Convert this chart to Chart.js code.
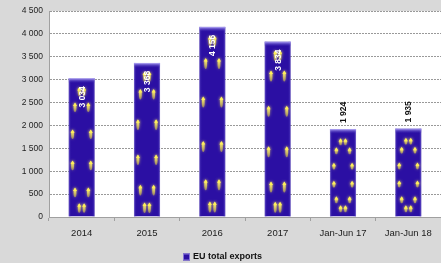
<!DOCTYPE html>
<html>
<head>
<meta charset="utf-8">
<script src="https://cdn.jsdelivr.net/npm/chart.js@4.4.1/dist/chart.umd.min.js"></script>
<style>
html,body{margin:0;padding:0;background:#d9d9d9;}
#wrap{width:441px;height:263px;}
</style>
</head>
<body>
<div id="wrap"><canvas id="c" width="441" height="263"></canvas></div>
<script>
const categories = ["2014", "2015", "2016", "2017", "Jan-Jun 17", "Jan-Jun 18"];
const exportsValues = [3034, 3368, 4156, 3834, 1924, 1935];
const seriesName = "EU total exports";
const yMax = 4500;
const yStep = 500;
const barColor = '#2b0fa3';

function fmt(v){ return String(v).replace(/\B(?=(\d{3})+(?!\d))/g, " "); }

const plotBg = {
  id: 'plotBg',
  beforeDraw(chart){
    const a = chart.chartArea, ctx = chart.ctx;
    ctx.save();
    ctx.fillStyle = '#ffffff';
    ctx.fillRect(a.left, a.top, a.right - a.left, a.bottom - a.top);
    ctx.restore();
  },
  afterDraw(chart){
    // legend
    const ctx = chart.ctx;
    ctx.save();
    ctx.font = 'bold 9px "Liberation Sans", Arial, sans-serif';
    const tw = ctx.measureText(seriesName).width;
    const total = 7 + 3 + tw;
    const x = chart.width / 2 - total / 2 + 2;
    const y = 257;
    ctx.fillStyle = barColor;
    ctx.fillRect(x, y - 3.5, 7, 7);
    ctx.strokeStyle = '#8878d8';
    ctx.lineWidth = 1;
    ctx.strokeRect(x + 0.5, y - 3, 6, 6);
    ctx.fillStyle = '#111';
    ctx.textBaseline = 'middle';
    ctx.textAlign = 'left';
    ctx.fillText(seriesName, x + 10, y);
    ctx.restore();
  }
};

const barDecor = {
  id: 'barDecor',
  afterDatasetsDraw(chart){
    const ctx = chart.ctx;
    const meta = chart.getDatasetMeta(0);
    meta.data.forEach((bar, i) => {
      const w = bar.width, x0 = bar.x - w/2, top = bar.y, bottom = bar.base;
      const h = bottom - top;
      ctx.save();
      let g = ctx.createLinearGradient(x0, 0, x0 + w, 0);
      g.addColorStop(0, 'rgba(120,100,220,0.55)');
      g.addColorStop(0.12, 'rgba(40,20,160,0)');
      g.addColorStop(0.88, 'rgba(40,20,160,0)');
      g.addColorStop(1, 'rgba(120,100,220,0.55)');
      ctx.fillStyle = g;
      ctx.fillRect(x0, top, w, h);
      let gt = ctx.createLinearGradient(0, top, 0, top + 5);
      gt.addColorStop(0, 'rgba(190,180,255,0.95)');
      gt.addColorStop(1, 'rgba(60,40,180,0)');
      ctx.fillStyle = gt;
      ctx.fillRect(x0, top, w, 5);
      const cx = bar.x, cy = top + h/2 + 3;
      const ry = h/2 - 9, rx = w * 0.36;
      const n = 12;
      for (let k = 0; k < n; k++){
        const a = (k + 0.5) / n * Math.PI * 2;
        const sx = cx + rx * Math.sin(a);
        const sy = cy - ry * Math.cos(a);
        const sh = Math.min(10, Math.max(6, h / 16));
        ctx.shadowColor = 'rgba(255,240,100,0.8)';
        ctx.shadowBlur = 3;
        let gs = ctx.createLinearGradient(0, sy - sh/2, 0, sy + sh/2);
        gs.addColorStop(0, 'rgba(255,245,120,1)');
        gs.addColorStop(1, 'rgba(220,200,60,0.5)');
        ctx.fillStyle = gs;
        ctx.beginPath();
        ctx.ellipse(sx, sy, 1.4, sh/2, 0, 0, Math.PI*2);
        ctx.fill();
        ctx.fillStyle = 'rgba(255,240,90,1)';
        ctx.beginPath();
        ctx.moveTo(sx, sy - sh/2 - 1);
        ctx.lineTo(sx - 2, sy - sh/2 + 2.5);
        ctx.lineTo(sx + 2, sy - sh/2 + 2.5);
        ctx.closePath();
        ctx.fill();
      }
      ctx.restore();
    });
    meta.data.forEach((bar, i) => {
      const v = exportsValues[i];
      const inside = v > 2500;
      ctx.save();
      ctx.font = 'bold 8.5px "Liberation Sans", Arial, sans-serif';
      ctx.textBaseline = 'middle';
      ctx.translate(bar.x + 0.5, inside ? bar.y + 8 : bar.y - 6);
      ctx.rotate(-Math.PI/2);
      if (inside){ ctx.textAlign = 'right'; ctx.fillStyle = '#ffffff'; }
      else { ctx.textAlign = 'left'; ctx.fillStyle = '#111111'; }
      ctx.fillText(fmt(v), 0, 0);
      ctx.restore();
    });
  }
};

new Chart(document.getElementById('c'), {
  type: 'bar',
  data: {
    labels: categories,
    datasets: [{
      label: seriesName,
      data: exportsValues,
      backgroundColor: barColor,
      borderColor: '#1c0a70',
      borderWidth: 0.5,
      categoryPercentage: 1,
      barPercentage: 0.4
    }]
  },
  options: {
    responsive: false,
    animation: false,
    devicePixelRatio: 1,
    layout: { padding: { top: 5, right: 0, left: 0, bottom: 0 } },
    plugins: {
      tooltip: { enabled: false },
      legend: { display: false }
    },
    scales: {
      x: {
        grid: { display: true, drawOnChartArea: false, drawTicks: true, tickLength: 4, color: '#a0a0a0', offset: true },
        border: { color: '#a0a0a0' },
        ticks: { color: '#222', font: { family: '"Liberation Sans", Arial, sans-serif', size: 9.5 }, padding: 7, maxRotation: 0 },
        afterFit(s){ s.height = 46; }
      },
      y: {
        min: 0, max: yMax,
        grid: { color: '#999999', tickLength: 0 },
        border: { color: '#a0a0a0', dash: [2, 1] },
        ticks: { stepSize: yStep, color: '#222', padding: 6, font: { family: '"Liberation Sans", Arial, sans-serif', size: 8.5 }, callback: v => fmt(v) },
        afterFit(s){ s.width = 49; }
      }
    }
  },
  plugins: [plotBg, barDecor]
});
</script>
</body>
</html>
